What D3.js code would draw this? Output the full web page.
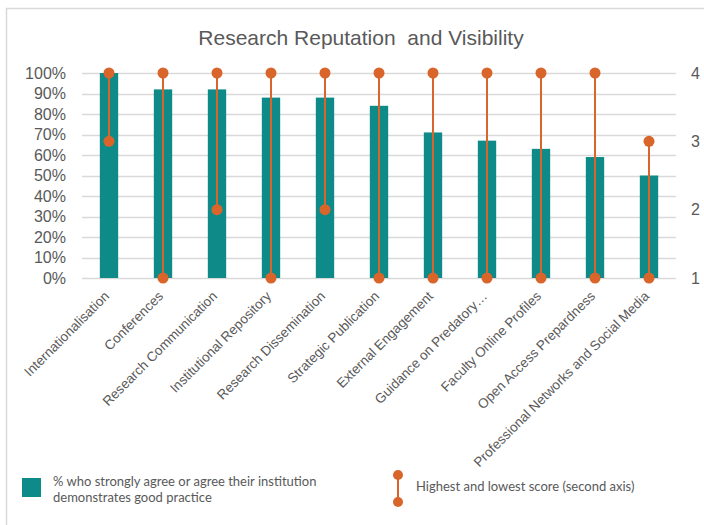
<!DOCTYPE html>
<html>
<head>
<meta charset="utf-8">
<script src="https://cdn.jsdelivr.net/npm/d3@7"></script>
<style>
  html, body { margin: 0; padding: 0; background: #fff; }
  svg { display: block; }
</style>
</head>
<body>
<svg id="chart" width="704" height="525"></svg>
<script>
const categories = [
  "Internationalisation", "Conferences", "Research Communication",
  "Institutional Repository", "Research Dissemination", "Strategic Publication",
  "External Engagement", "Guidance on Predatory…", "Faculty Online Profiles",
  "Open Access Prepardness", "Professional Networks and Social Media"
];
const agreePct = [1.00, 0.92, 0.92, 0.88, 0.88, 0.84, 0.71, 0.67, 0.63, 0.59, 0.50];
const highScore = [4, 4, 4, 4, 4, 4, 4, 4, 4, 4, 3];
const lowScore  = [3, 1, 2, 1, 2, 1, 1, 1, 1, 1, 1];
const leftTicks = [0, 0.1, 0.2, 0.3, 0.4, 0.5, 0.6, 0.7, 0.8, 0.9, 1.0];
const rightTicks = [1, 2, 3, 4];
const titleText = "Research Reputation  and Visibility";
const legendBar = ["% who strongly agree or agree their institution", "demonstrates good practice"];
const legendRange = "Highest and lowest score (second axis)";

(function () {
const TEAL = "#0e8a88", ORANGE = "#d9652b", GRID = "#d9d9d9", TXT = "#595959";
const FONT = "'Liberation Sans', Arial, sans-serif";
const svg = d3.select("#chart");

// frame
svg.append("rect").attr("x", 6.5).attr("y", 8.5).attr("width", 720).attr("height", 540)
  .attr("fill", "none").attr("stroke", GRID).attr("stroke-width", 1.5);

const pLeft = 82, pRight = 676, pTop = 73, pBottom = 278;
const x = d3.scaleBand().domain(categories).range([pLeft, pRight]).paddingInner(0.66).paddingOuter(0.33);
const y = d3.scaleLinear().domain([0, 1]).range([pBottom, pTop]);
const y2 = d3.scaleLinear().domain([1, 4]).range([pBottom, pTop]);

// title
svg.append("text").attr("x", 361).attr("y", 45).attr("text-anchor", "middle")
  .style("font-family", FONT).attr("font-size", 21)
  .attr("fill", TXT).style("white-space", "pre").text(titleText);

// gridlines
svg.append("g").selectAll("line").data(leftTicks).join("line")
  .attr("x1", pLeft).attr("x2", pRight)
  .attr("y1", d => Math.round(y(d)) + 0.5).attr("y2", d => Math.round(y(d)) + 0.5)
  .attr("stroke", GRID).attr("stroke-width", 1.3);

// left axis
const yAxis = d3.axisLeft(y).tickValues(leftTicks).tickFormat(d3.format(".0%")).tickSize(0).tickPadding(0);
const gy = svg.append("g").attr("transform", `translate(66,0)`).call(yAxis);
gy.select(".domain").remove();
gy.selectAll("text").style("font-family", FONT).attr("font-size", 16).attr("fill", TXT);

// right axis
const y2Axis = d3.axisRight(y2).tickValues(rightTicks).tickFormat(d3.format("d")).tickSize(0).tickPadding(0);
const gy2 = svg.append("g").attr("transform", `translate(691,0)`).call(y2Axis);
gy2.select(".domain").remove();
gy2.selectAll("text").style("font-family", FONT).attr("font-size", 16).attr("fill", TXT);

// bars
svg.append("g").selectAll("rect").data(categories).join("rect")
  .attr("x", d => x(d)).attr("width", x.bandwidth())
  .attr("y", (d, i) => y(agreePct[i])).attr("height", (d, i) => y(0) - y(agreePct[i]))
  .attr("fill", TEAL);

// hi-lo lines
const cx = d => x(d) + x.bandwidth() / 2;
const hl = svg.append("g");
hl.selectAll("line").data(categories).join("line")
  .attr("x1", cx).attr("x2", cx)
  .attr("y1", (d, i) => y2(highScore[i])).attr("y2", (d, i) => y2(lowScore[i]))
  .attr("stroke", ORANGE).attr("stroke-width", 2);
hl.selectAll("circle.hi").data(categories).join("circle").attr("class", "hi")
  .attr("cx", cx).attr("cy", (d, i) => y2(highScore[i])).attr("r", 5.5).attr("fill", ORANGE);
hl.selectAll("circle.lo").data(categories).join("circle").attr("class", "lo")
  .attr("cx", cx).attr("cy", (d, i) => y2(lowScore[i])).attr("r", 5.5).attr("fill", ORANGE);

// category labels
svg.append("g").selectAll("text").data(categories).join("text")
  .attr("transform", d => `translate(${cx(d) + 1},297) rotate(-45)`)
  .attr("text-anchor", "end")
  .style("font-family", FONT).attr("font-size", 13.5)
  .attr("fill", TXT).text(d => d);

// legend
const lg = svg.append("g");
lg.append("rect").attr("x", 22).attr("y", 478).attr("width", 19).attr("height", 19).attr("fill", TEAL);
lg.selectAll("text.lb").data(legendBar).join("text").attr("class", "lb")
  .attr("x", 53).attr("y", (d, i) => 486 + i * 16)
  .style("font-family", "Lato, sans-serif").attr("font-size", 13).attr("fill", TXT).text(d => d);
lg.append("line").attr("x1", 398).attr("x2", 398).attr("y1", 475).attr("y2", 502)
  .attr("stroke", ORANGE).attr("stroke-width", 2);
lg.append("circle").attr("cx", 398).attr("cy", 475).attr("r", 5).attr("fill", ORANGE);
lg.append("circle").attr("cx", 398).attr("cy", 502).attr("r", 5).attr("fill", ORANGE);
lg.append("text").attr("x", 416).attr("y", 491)
  .style("font-family", "Lato, sans-serif").attr("font-size", 13).attr("fill", TXT).text(legendRange);
})();
</script>
</body>
</html>
